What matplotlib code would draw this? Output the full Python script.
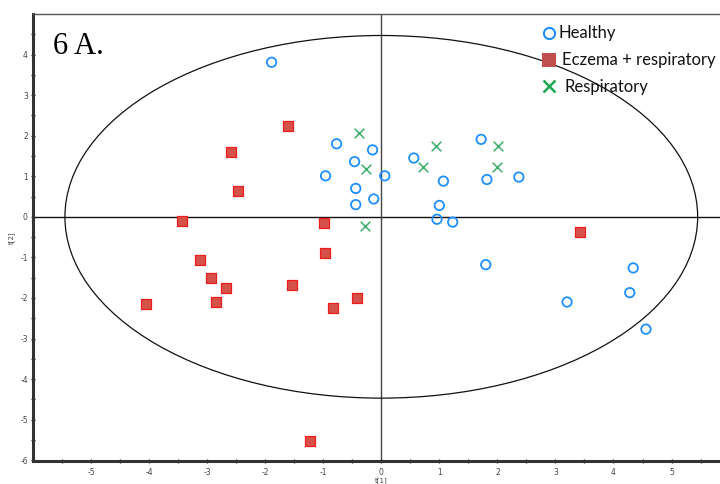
import matplotlib
matplotlib.use("Agg")
import matplotlib.pyplot as plt
from matplotlib.patches import Ellipse
from matplotlib.lines import Line2D

plt.rcParams["axes.unicode_minus"] = False

# ---- data ----
healthy_x = [-1.89, -0.77, -0.15, -0.46, -0.96, 0.06, -0.44, -0.13, -0.44, 0.56,
             1.07, 1.00, 0.96, 1.23, 1.72, 1.82, 2.37, 1.80, 4.34, 4.28, 3.20, 4.56]
healthy_y = [3.81, 1.80, 1.65, 1.36, 1.01, 1.01, 0.70, 0.44, 0.30, 1.45,
             0.88, 0.28, -0.06, -0.13, 1.91, 0.92, 0.98, -1.18, -1.26, -1.87, -2.10, -2.77]

eczema_x = [-1.61, -2.59, -2.46, -3.43, -0.99, -0.97, -3.12, -2.94, -2.67, -1.54,
            -4.06, -2.85, -0.42, -0.84, -1.23, 3.43]
eczema_y = [2.23, 1.61, 0.63, -0.10, -0.16, -0.88, -1.07, -1.50, -1.75, -1.67,
            -2.15, -2.10, -1.99, -2.25, -5.52, -0.38]

resp_x = [-0.38, -0.26, -0.28, 0.95, 0.71, 2.01, 2.00]
resp_y = [2.07, 1.17, -0.22, 1.74, 1.22, 1.75, 1.23]

ellipse_a = 5.45
ellipse_b = 4.47

series_labels = ["Healthy", "Eczema + respiratory", "Respiratory"]
x_ticks = [-5, -4, -3, -2, -1, 0, 1, 2, 3, 4, 5]
y_ticks = [-6, -5, -4, -3, -2, -1, 0, 1, 2, 3, 4]

blue = "#1E8FFF"
red_face = "#D4524A"
red_edge = "#EE1C1C"
green = "#3DAE6A"

fig = plt.figure(figsize=(7.2, 4.84), dpi=100)
ax = fig.add_axes([33 / 720, 1 - 461 / 484, 1 - 33 / 720, (461 - 14) / 484])
ax.set_xlim(-6.0, 5.835)
ax.set_ylim(-6.02, 5.0)

# zero lines
ax.axhline(0, color="#111111", lw=1.0, zorder=1)
ax.axvline(0, color="#444444", lw=1.0, zorder=1)

# Hotelling ellipse
ax.add_patch(Ellipse((0, 0), 2 * ellipse_a, 2 * ellipse_b, fill=False,
                     edgecolor="#111111", lw=0.9, zorder=1))

ax.scatter(eczema_x, eczema_y, marker="s", s=48, facecolor=red_face,
           edgecolor=red_edge, linewidths=0.9, zorder=3)
ax.scatter(healthy_x, healthy_y, marker="o", s=46, facecolor="none",
           edgecolor=blue, linewidths=1.3, zorder=3)
ax.scatter(resp_x, resp_y, marker="x", s=48, color=green, linewidths=1.1, zorder=3)

# spines
ax.spines["right"].set_visible(False)
ax.spines["top"].set_color("#555555")
ax.spines["top"].set_linewidth(1.0)
for s in ("left", "bottom"):
    ax.spines[s].set_color("#333333")
    ax.spines[s].set_linewidth(2.2)

ax.set_xticks(x_ticks)
ax.set_yticks(y_ticks)
ax.set_xticks([v + 0.5 for v in range(-6, 6)], minor=True)
ax.set_yticks([v + 0.5 for v in range(-6, 5)], minor=True)
ax.tick_params(which="both", direction="inout", length=3.5, width=0.9, color="#222222",
               labelsize=5.5, labelcolor="#444444")
ax.tick_params(axis="x", which="both", pad=3)
ax.tick_params(axis="y", which="both", pad=2)
ax.tick_params(top=False, right=False)

ax.set_xlabel("t[1]", fontsize=5, color="#444444")
ax.xaxis.set_label_coords((381 - 33) / 687, -(477 - 461) / 447)
ax.set_ylabel("t[2]", fontsize=5, color="#444444", labelpad=4)

# panel label
fig.text(53 / 720, 1 - 54 / 484, "6 A.", family="Liberation Serif", fontsize=22,
         color="#000000", va="baseline", ha="left")

# legend (manual placement)
leg_font = "Lato"
rows = [(38, series_labels[0], 559), (65, series_labels[1], 562), (92, series_labels[2], 564)]
handles = [
    dict(marker="o", mfc="none", mec=blue, mew=1.5, ms=8),
    dict(marker="s", mfc="#C0504D", mec="#C0504D", mew=0, ms=9.5),
    dict(marker="x", mfc="none", mec="#1FA850", mew=1.8, ms=8),
]
for (base_y, label, tx), h in zip(rows, handles):
    fy = 1 - base_y / 484
    fig.add_artist(Line2D([549 / 720], [1 - (base_y - 5.5) / 484], transform=fig.transFigure,
                          linestyle="none", **h))
    fig.text(tx / 720, fy, label, family=leg_font, fontsize=12, color="#111111",
             va="baseline", ha="left")

fig.savefig("out.png", dpi=100)
